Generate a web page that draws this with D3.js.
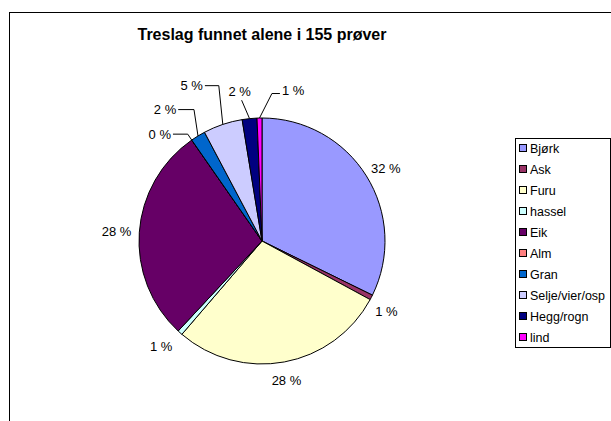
<!DOCTYPE html>
<html>
<head>
<meta charset="utf-8">
<script src="https://cdn.jsdelivr.net/npm/d3@7"></script>
<style>
  html, body { margin: 0; padding: 0; background: #fff; }
  svg { display: block; font-family: Arial, "Liberation Sans", sans-serif; }
</style>
</head>
<body>
<svg id="chart" width="611" height="421"></svg>
<script>
// data: count of samples per tree species (155 total)
const categories = ['Bjørk', 'Ask', 'Furu', 'hassel', 'Eik', 'Alm', 'Gran', 'Selje/vier/osp', 'Hegg/rogn', 'lind'];
const counts = [50, 1, 44, 1, 44, 0, 3, 8, 3, 1];
const colors = ['#9999FF', '#993366', '#FFFFCC', '#CCFFFF', '#660066', '#FF8080', '#0066CC', '#CCCCFF', '#000080', '#FF00FF'];
const title = 'Treslag funnet alene i 155 prøver';

// label nudges (index -> [dx, dy, leader side])
const labelNudge = {
  1: [-2, 7, null],
  2: [-2, 4, null],
  3: [-6, 3, null],
  5: [-21, 6, 'left'],
  6: [-23, -14, 'left'],
  7: [-25, -25, 'left'],
  8: [-8, -13, 'down'],
  9: [34, -13, 'right']
};

const svg = d3.select('#chart');
const W = 611, H = 421;
const cx = 262, cy = 241, R = 123;
const fs = 13;

// outer chart frame (runs off the right/bottom edges)
svg.append('rect')
  .attr('x', 9.5).attr('y', 12.5)
  .attr('width', W + 20).attr('height', H + 20)
  .attr('fill', '#fff')
  .attr('stroke', '#000')
  .attr('stroke-width', 1);

svg.append('text')
  .attr('x', cx).attr('y', 40)
  .attr('text-anchor', 'middle')
  .attr('font-size', 16)
  .attr('font-weight', 'bold')
  .text(title);

const total = d3.sum(counts);
const pie = d3.pie().sort(null).value(d => d)(counts);
const arc = d3.arc().innerRadius(0).outerRadius(R);

const g = svg.append('g').attr('transform', `translate(${cx},${cy})`);

g.selectAll('path')
  .data(pie)
  .enter()
  .append('path')
  .attr('d', arc)
  .attr('fill', (d, i) => colors[i])
  .attr('stroke', '#000')
  .attr('stroke-width', 1)
  .attr('stroke-linejoin', 'round');

// labels
const fmt = v => `${Math.round(v / total * 100)} %`;
const labels = g.selectAll('text.lbl')
  .data(pie)
  .enter()
  .append('text')
  .attr('class', 'lbl')
  .attr('font-size', fs)
  .attr('fill', '#000')
  .attr('text-anchor', 'middle')
  .attr('dominant-baseline', 'central')
  .text(d => fmt(d.value));

labels.each(function(d, i) {
  const a = (d.startAngle + d.endAngle) / 2;
  const sx = Math.sin(a), sy = -Math.cos(a);
  const w = this.getComputedTextLength();
  let x = sx * (R + 8) + sx * w / 2;
  let y = sy * (R + 8) + sy * fs / 2;
  const nudge = labelNudge[i];
  if(nudge) {
    x += nudge[0];
    y += nudge[1];
    const ax = sx * R, ay = sy * R;
    let pts = null;
    if(nudge[2] === 'left') {
      pts = [[x + w / 2 + 2, y], [ax - 4, y], [ax, ay]];
    } else if(nudge[2] === 'right') {
      pts = [[x - w / 2 - 2, y + 3], [x - w / 2 - 10, y + 3], [ax, ay]];
    } else if(nudge[2] === 'down') {
      pts = [[x + 2, y + 9], [ax, ay]];
    }
    if(pts) {
      g.append('path')
        .attr('d', d3.line()(pts))
        .attr('fill', 'none')
        .attr('stroke', '#000')
        .attr('stroke-width', 1);
    }
  }
  d3.select(this).attr('x', x).attr('y', y);
});

// legend
const lx = 515, ly = 138, lw = 95, lh = 209, step = 21;
const legend = svg.append('g');
legend.append('rect')
  .attr('x', lx + 0.5).attr('y', ly + 0.5)
  .attr('width', lw).attr('height', lh)
  .attr('fill', '#fff')
  .attr('stroke', '#000');

const items = legend.selectAll('g.item')
  .data(categories)
  .enter()
  .append('g')
  .attr('class', 'item')
  .attr('transform', (d, i) => `translate(${lx + 4},${ly + 10 + i * step})`);

items.append('rect')
  .attr('x', 0.5).attr('y', -3.5)
  .attr('width', 7).attr('height', 7)
  .attr('fill', (d, i) => colors[i])
  .attr('stroke', '#000')
  .attr('stroke-width', 1);

items.append('text')
  .attr('x', 11).attr('y', 0.5)
  .attr('dominant-baseline', 'central')
  .attr('font-size', 12.5)
  .text(d => d);
</script>
</body>
</html>
